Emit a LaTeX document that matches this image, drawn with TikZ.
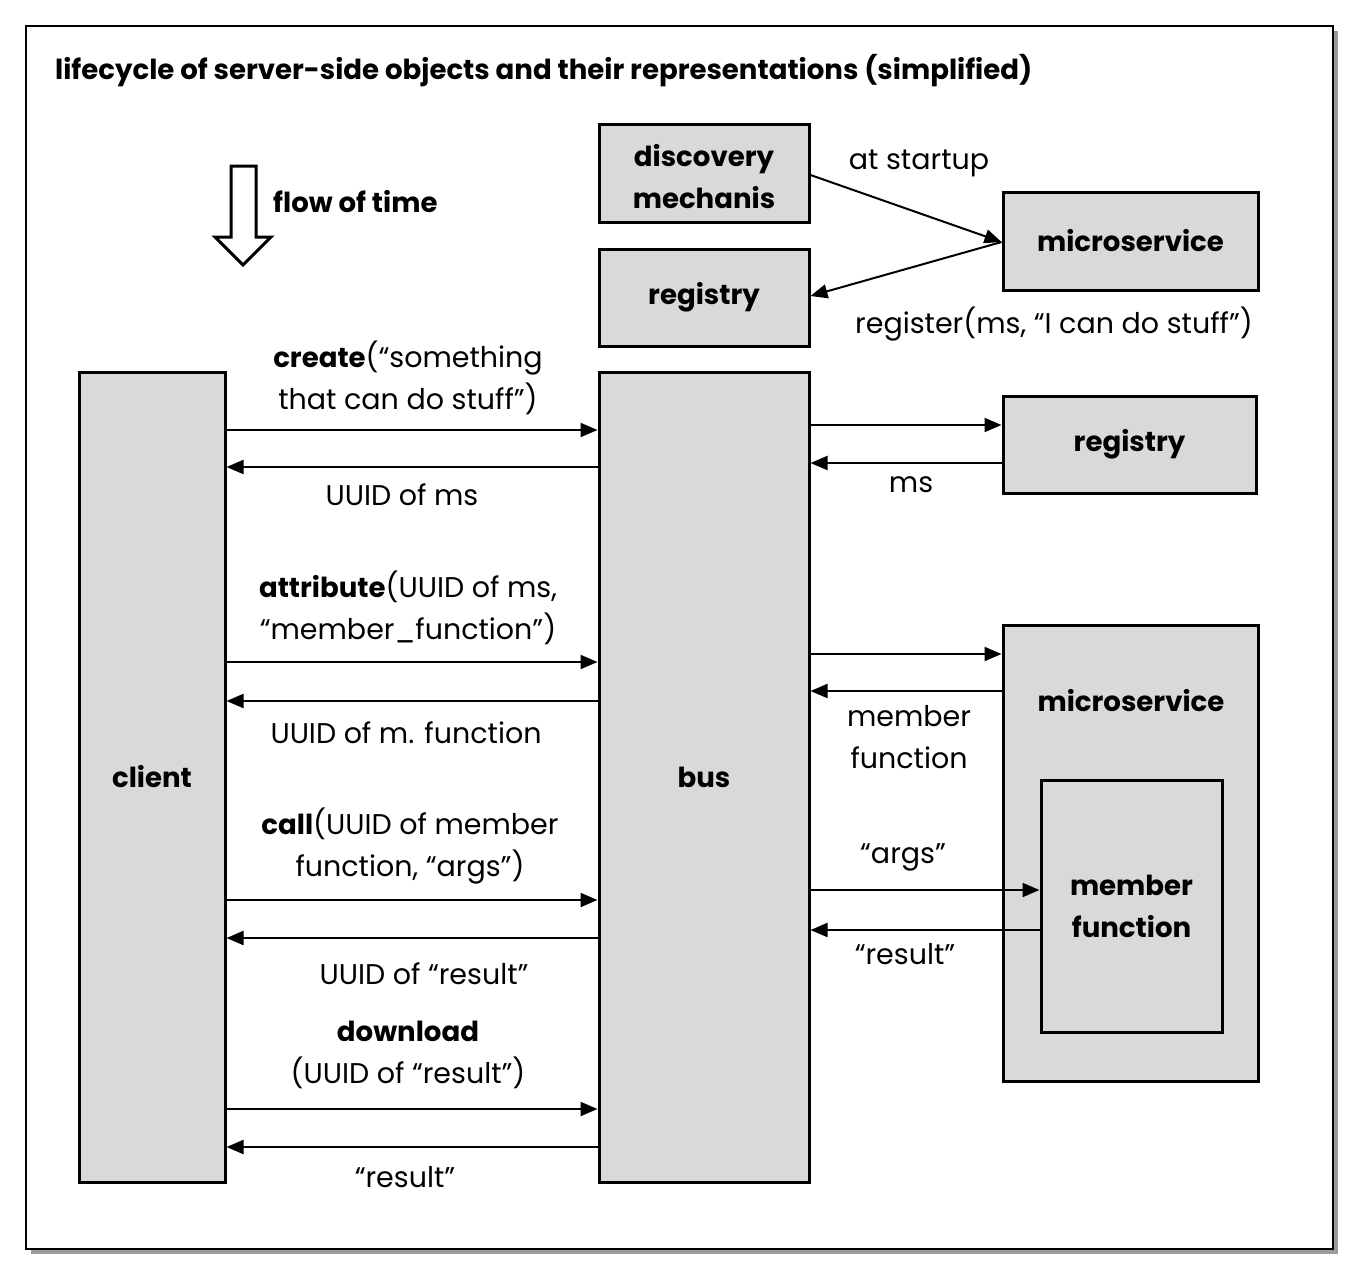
\documentclass[tikz,border=0pt]{standalone}
\usepackage{fontspec}
\setmainfont{Poppins}
\usetikzlibrary{arrows.meta}
\definecolor{boxgray}{RGB}{217,217,217}
\definecolor{shadowgray}{RGB}{155,155,155}
\newcommand\bx[1]{{\fontsize{27.6}{42}\selectfont\bfseries #1}}
\newcommand\lowr[1]{\raisebox{-4pt}[\height][\depth]{#1}}
\begin{document}
\begin{tikzpicture}[x=1pt,y=-1pt,
  box/.style={draw, line width=3pt, fill=boxgray, inner sep=0pt, align=center,
    font=\fontsize{27.6}{42}\selectfont\bfseries},
  conn/.style={line width=2pt, -{Triangle[length=17pt,width=14pt]}},
  lbl/.style={font=\fontsize{28.5}{42}\selectfont, align=center, inner sep=0pt},
  blbl/.style={font=\fontsize{27.6}{42}\selectfont\bfseries, align=center, inner sep=0pt}]
\useasboundingbox (0,0) rectangle (1362,1277);
% frame with shadow
\fill[shadowgray] (31,31) rectangle (1338,1254);
\draw[line width=2pt, fill=white] (26,26) rectangle (1333,1249);
\node[blbl, anchor=west] (title) at (55,71) {lifecycle of server-side objects and their representations (simplified)};
% flow of time
\draw[line width=3pt, line join=miter] (231,166) -- (256,166) -- (256,237) -- (271,237) -- (243,265) -- (215,237) -- (231,237) -- cycle;
\node[blbl, anchor=west] (flow) at (273,202) {flow of time};
% top boxes
\node[box, minimum width=210pt, minimum height=98pt] (disc) at (704,173) {\lowr{discovery}\\\lowr{mechanis}};
\node[box, minimum width=210pt, minimum height=97pt] (reg1) at (704,297.5) {registry};
\node[box, minimum width=255pt, minimum height=98pt] (ms1) at (1130.5,241) {microservice};
\draw[conn] (disc.east |- 0,175) -- (ms1.west |- 0,242);
\draw[conn] (ms1.west |- 0,242) -- (reg1.east |- 0,296);
\node[lbl] (startup) at (919,163) {at startup};
\node[lbl] (register) at (1054,324) {register(ms, “I can do stuff”)};
% main boxes
\node[box, minimum width=146pt, minimum height=810pt] (client) at (152,777) {client};
\node[box, minimum width=210pt, minimum height=810pt] (bus) at (704,777) {bus};
\node[box, minimum width=253pt, minimum height=97pt] (reg2) at (1129.5,444.5) {registry};
\node[box, minimum width=255pt, minimum height=456pt] (ms2) at (1130.5,853) {};
\node[blbl] (ms2lbl) at (1131,701) {microservice};
\node[box, minimum width=181pt, minimum height=252pt] (mf) at (1131.5,906) {member\\function};
% client <-> bus
\draw[conn] (client.east |- 0,430) -- (bus.west |- 0,430);
\draw[conn] (bus.west |- 0,467) -- (client.east |- 0,467);
\draw[conn] (client.east |- 0,662) -- (bus.west |- 0,662);
\draw[conn] (bus.west |- 0,701) -- (client.east |- 0,701);
\draw[conn] (client.east |- 0,900) -- (bus.west |- 0,900);
\draw[conn] (bus.west |- 0,938) -- (client.east |- 0,938);
\draw[conn] (client.east |- 0,1109) -- (bus.west |- 0,1109);
\draw[conn] (bus.west |- 0,1147) -- (client.east |- 0,1147);
\node[lbl] (l1) at (408,378) {\bx{create}(“something\\that can do stuff”)};
\node[lbl] (l2) at (402,495) {UUID of ms};
\node[lbl] (l3) at (408,608) {\bx{attribute}(UUID of ms,\\“member\_function”)};
\node[lbl] (l4) at (406,733) {UUID of m. function};
\node[lbl] (l5) at (410,846) {\bx{call}(UUID of member\\function, “args”)};
\node[lbl] (l6) at (424,974) {UUID of “result”};
\node[lbl] (l7) at (408,1055) {\bx{download}\\(UUID of “result”)};
\node[lbl] (l8) at (405,1177) {“result”};
% bus <-> right side
\draw[conn] (bus.east |- 0,425) -- (reg2.west |- 0,425);
\draw[conn] (reg2.west |- 0,463) -- (bus.east |- 0,463);
\node[lbl] (r1) at (911,485) {ms};
\draw[conn] (bus.east |- 0,654) -- (ms2.west |- 0,654);
\draw[conn] (ms2.west |- 0,691) -- (bus.east |- 0,691);
\node[lbl] (r2) at (909,737) {member\\function};
\draw[conn] (bus.east |- 0,890) -- (mf.west |- 0,890);
\draw[conn] (mf.west |- 0,930) -- (bus.east |- 0,930);
\node[lbl] (r3) at (903,857) {“args”};
\node[lbl] (r4) at (905,954) {“result”};
\end{tikzpicture}
\end{document}
